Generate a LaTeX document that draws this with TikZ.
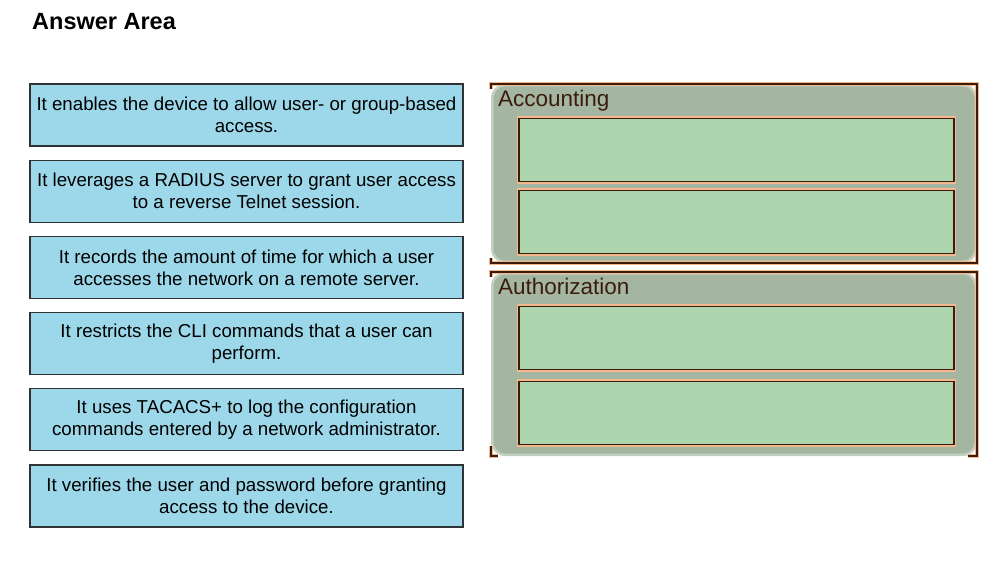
\documentclass[tikz,border=0pt]{standalone}
\usepackage{fontspec}
\setmainfont{Liberation Sans}
\usepackage{tikz}
\usetikzlibrary{positioning}
\definecolor{blue1}{HTML}{9DD8EA}
\definecolor{green1}{HTML}{AED6AE}
\definecolor{sage1}{HTML}{A4B6A2}
\definecolor{brown1}{HTML}{3B1C0C}
\definecolor{orange1}{HTML}{F2B98C}
\definecolor{gray1}{HTML}{2F3336}

\begin{document}
\begin{tikzpicture}[x=1pt, y=-1pt,
    card/.style={draw=gray1, line width=1.2pt, fill=blue1, outer sep=0pt,
                 minimum width=433pt, minimum height=62pt, inner sep=0pt,
                 align=center, font=\fontsize{18.7}{22}\selectfont},
    panel/.style={fill=sage1, rounded corners=14pt, minimum width=486pt,
                  inner sep=0pt,
                  postaction={draw=white, draw opacity=0.35, line width=5pt}},
    slot/.style={draw=brown1, line width=1.6pt, fill=green1, outer sep=0pt,
                 minimum width=435pt, minimum height=63pt,
                 preaction={draw=orange1, line width=4.5pt}},
    frame/.style={draw=brown1, line width=1.5pt,
                  preaction={draw=orange1, line width=3.5pt}},
    tag/.style={inner sep=0pt, text=brown1, font=\fontsize{22.5}{26}\selectfont},
]
\fill[white] (0,0) rectangle (1000,564);
\useasboundingbox (0,0) rectangle (1000,564);

\node[anchor=base west, inner sep=0pt, font=\fontsize{23.5}{27}\selectfont\bfseries]
    (title) at (32,30) {Answer Area};

% statements
\node[card] (c1) at (246.5,115)
    {It enables the device to allow user- or group-based\\access.};
\node[card, below=14.2pt of c1] (c2)
    {It leverages a RADIUS server to grant user access\\to a reverse Telnet session.};
\node[card, below=14.2pt of c2] (c3)
    {It records the amount of time for which a user\\accesses the network on a remote server.};
\node[card, below=14.2pt of c3] (c4)
    {It restricts the CLI commands that a user can\\perform.};
\node[card, below=14.2pt of c4] (c5)
    {It uses TACACS+ to log the configuration\\commands entered by a network administrator.};
\node[card, below=14.2pt of c5] (c6)
    {It verifies the user and password before granting\\access to the device.};

% target panels
\node[panel, minimum height=179pt] (acct) at (734,173.5) {};
\node[panel, minimum height=184pt] (auth) at (734,364) {};

\node[tag, below right=6pt and 7pt of acct.north west] (acctlbl) {Accounting};
\node[tag, below right=6pt and 7pt of auth.north west] (authlbl) {Authorization};

\node[slot] (a1) at (736.5,150) {};
\node[slot, below=9pt of a1] (a2) {};
\node[slot] (z1) at (736.5,338) {};
\node[slot, below=12pt of z1] (z2) {};

\draw[frame] ([yshift=-5pt]acct.north west) -- (acct.north west)
    -- (acct.north east) -- (acct.south east) -- (acct.south west)
    -- ([yshift=5pt]acct.south west);
\draw[frame] ([yshift=-5pt]auth.north west) -- (auth.north west)
    -- (auth.north east) -- (auth.south east) -- ([xshift=-9pt]auth.south east);
\draw[frame] ([yshift=10pt]auth.south west) -- (auth.south west)
    -- ([xshift=7pt]auth.south west);
\end{tikzpicture}
\end{document}
